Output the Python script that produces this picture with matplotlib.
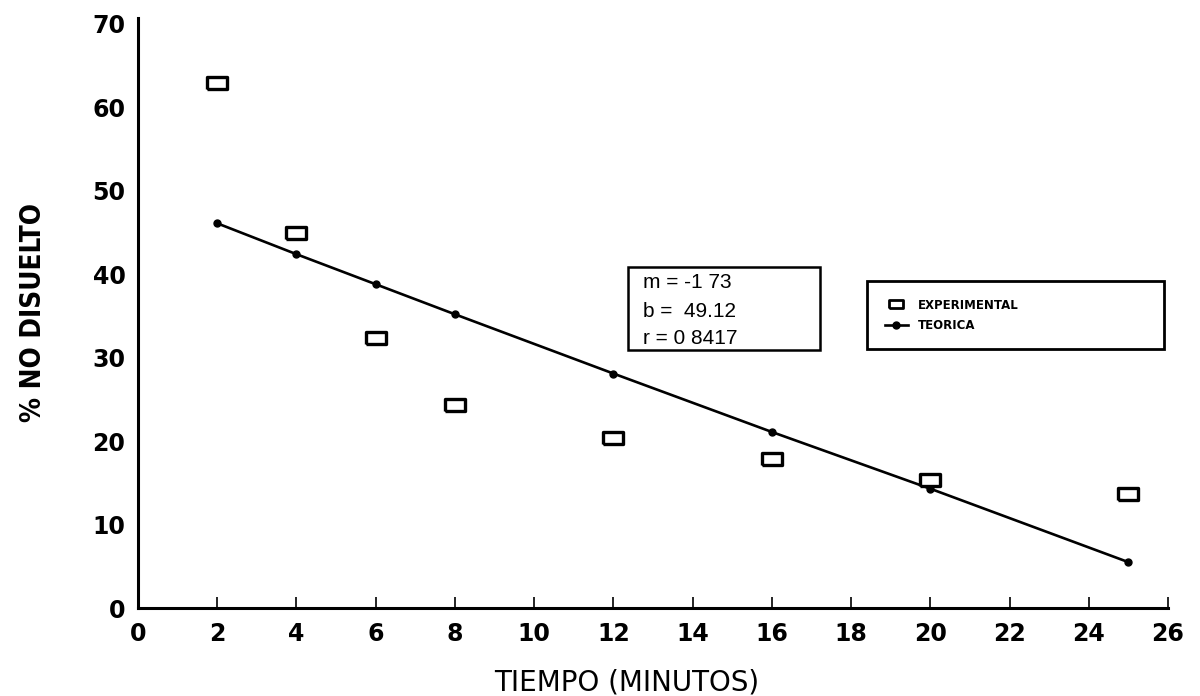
#!/usr/bin/env python3
"""
% no disuelto frente al tiempo: puntos experimentales y recta teorica.
Guarda la figura como 'out.png'.
"""

import matplotlib
matplotlib.use('Agg')
import matplotlib.pyplot as plt
from matplotlib.patches import Rectangle
from matplotlib.lines import Line2D

# Datos
tiempo = [2, 4, 6, 8, 12, 16, 20, 25]
experimental = [62.9, 44.9, 32.3, 24.3, 20.4, 17.8, 15.3, 13.7]
teorica = [46.1, 42.4, 38.8, 35.2, 28.1, 21.1, 14.3, 5.5]

x_ticks = list(range(0, 27, 2))
y_ticks = list(range(0, 71, 10))
texto_ajuste = ['m = -1 73', 'b =  49.12', 'r = 0 8417']
etiquetas = ['EXPERIMENTAL', 'TEORICA']

plt.rcParams['font.family'] = ['DejaVu Sans']

fig = plt.figure(figsize=(12, 6.96), dpi=100, facecolor='white')
ax = fig.add_axes([0.115, 0.1264, 0.8583, 0.8477])

# marcador rectangular abierto (mas ancho que alto)
rect = [(-1.7, -1), (1.7, -1), (1.7, 1), (-1.7, 1), (-1.7, -1)]

ax.plot(tiempo, teorica, color='black', linewidth=1.9, marker='o', markersize=5,
        label=etiquetas[1], zorder=3)
ax.plot(tiempo, experimental, linestyle='none', marker=rect, markersize=15,
        markerfacecolor='white', markeredgecolor='black', markeredgewidth=2.4,
        label=etiquetas[0], zorder=4)

ax.set_xlim(0, 26)
ax.set_ylim(0, 70.7)
ax.set_xticks(x_ticks)
ax.set_yticks(y_ticks)

for s in ['top', 'right']:
    ax.spines[s].set_visible(False)
for s in ['left', 'bottom']:
    ax.spines[s].set_linewidth(2.2)

ax.tick_params(axis='x', direction='in', length=8, width=1.2, pad=10, labelsize=17)
ax.tick_params(axis='y', direction='in', length=0, pad=9, labelsize=17)
for lab in ax.get_xticklabels() + ax.get_yticklabels():
    lab.set_fontweight('bold')

ax.set_xlabel('TIEMPO (MINUTOS)', fontsize=20)
ax.xaxis.set_label_coords((627 - 138) / 1030, -0.102)
ax.set_ylabel('% NO DISUELTO', fontsize=20, fontstretch='condensed', fontweight='bold',
              family=['Liberation Sans Narrow', 'DejaVu Sans'])
ax.yaxis.set_label_coords(-0.088, (608 - 312) / 590)

# Cuadro con los parametros del ajuste
ax.add_patch(Rectangle((0.4757, 0.4373), 0.1864, 0.1407, transform=ax.transAxes,
                       fill=False, edgecolor='black', linewidth=1.8, clip_on=False))
for txt, yy in zip(texto_ajuste, [0.551, 0.503, 0.4576]):
    ax.text(0.4903, yy, txt, transform=ax.transAxes, fontsize=15,
            family=['Liberation Sans', 'DejaVu Sans'], va='center', ha='left')

# Leyenda
handles = [
    Line2D([], [], linestyle='none', marker=rect, markersize=10, markerfacecolor='white',
           markeredgecolor='black', markeredgewidth=2),
    Line2D([], [], color='black', linewidth=1.9, marker='o', markersize=5),
]
leg = ax.legend(handles, etiquetas, loc='center', mode='expand',
                bbox_to_anchor=(0.702, 0.437, 0.300, 0.119), fontsize=8.5,
                numpoints=1, handlelength=2.0, handletextpad=0.8, borderpad=1.5,
                labelspacing=0.6, fancybox=False, framealpha=1, edgecolor='black')
leg.get_frame().set_linewidth(2)
for t in leg.get_texts():
    t.set_fontweight('bold')

fig.savefig('out.png', dpi=100, facecolor='white')
